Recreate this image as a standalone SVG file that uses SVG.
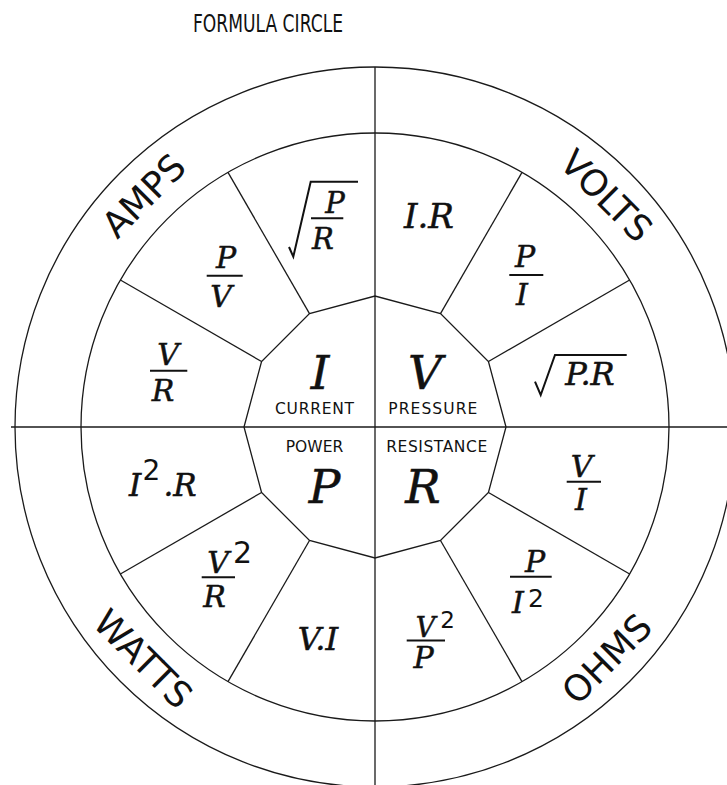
<svg xmlns="http://www.w3.org/2000/svg" width="727" height="785" viewBox="0 0 727 785">
<style>
.ln{fill:none;stroke:#1a1a1a;stroke-width:1.3}
.rad{fill:none;stroke:#111;stroke-width:2;stroke-linejoin:miter}
.bar{stroke:#111;stroke-width:2}
.f{font-family:"DejaVu Serif","Liberation Serif",serif;font-style:italic;fill:#111;stroke:#111;stroke-width:0.5;text-anchor:middle}
.s{font-family:"DejaVu Sans","Liberation Sans",sans-serif;fill:#111;text-anchor:middle}
.big{font-size:47px}
.fr{font-size:30px}
.lab{font-size:15.5px}
.ring{font-size:36px}
</style>
<rect width="727" height="785" fill="#fff"/>
<g id="title">
<text class="s" x="268" y="32" font-size="24" textLength="150" lengthAdjust="spacingAndGlyphs">FORMULA CIRCLE</text>
</g>
<g id="frame" class="ln">
<circle cx="375" cy="427" r="360"/>
<circle cx="375" cy="427" r="294"/>
<polygon points="506,427 488.45,361.5 440.5,313.55 375,296 309.5,313.55 261.55,361.5 244,427 261.55,492.5 309.5,540.45 375,558 440.5,540.45 488.45,492.5"/>
</g>
<g id="connectors" class="ln">
<line x1="375" y1="67" x2="375" y2="785"/>
<line x1="11" y1="427" x2="727" y2="427"/>
<line x1="488.45" y1="361.5" x2="629.6" y2="280"/>
<line x1="440.5" y1="313.55" x2="522" y2="172.4"/>
<line x1="309.5" y1="313.55" x2="228" y2="172.4"/>
<line x1="261.55" y1="361.5" x2="120.4" y2="280"/>
<line x1="261.55" y1="492.5" x2="120.4" y2="574"/>
<line x1="309.5" y1="540.45" x2="228" y2="681.6"/>
<line x1="440.5" y1="540.45" x2="522" y2="681.6"/>
<line x1="488.45" y1="492.5" x2="629.6" y2="574"/>
</g>
<g id="current">
<text class="f big" x="320" y="389">I</text>
<text class="s lab" x="314.5" y="414" textLength="79">CURRENT</text>
</g>
<g id="pressure">
<text class="f big" x="425" y="389">V</text>
<text class="s lab" x="432.8" y="414" textLength="89">PRESSURE</text>
</g>
<g id="power">
<text class="s lab" x="314.5" y="452" textLength="57.6">POWER</text>
<text class="f big" x="324.5" y="503">P</text>
</g>
<g id="resistance">
<text class="s lab" x="436.7" y="452" textLength="101">RESISTANCE</text>
<text class="f big" x="423" y="503">R</text>
</g>
<g id="amps-sqrt-p-r">
<path class="rad" d="M289,247 L293.3,256.7 L310.7,181.7 L358,181.7"/>
<text class="f" font-size="29" x="335" y="213">P</text>
<line class="bar" x1="311" y1="218.3" x2="343.3" y2="218.3"/>
<text class="f" font-size="29" x="323" y="249.3">R</text>
</g>
<g id="amps-p-v">
<text class="f fr" x="226" y="268.3">P</text>
<line class="bar" x1="206.7" y1="275.7" x2="242.7" y2="275.7"/>
<text class="f fr" x="221" y="306.7">V</text>
</g>
<g id="amps-v-r">
<text class="f fr" x="168" y="365">V</text>
<line class="bar" x1="150" y1="370.7" x2="187.3" y2="370.7"/>
<text class="f fr" x="163" y="401">R</text>
</g>
<g id="volts-i-r">
<text class="f" font-size="34" x="429" y="228.3">I.R</text>
</g>
<g id="volts-p-i">
<text class="f fr" x="525" y="266.7">P</text>
<line class="bar" x1="509.3" y1="275" x2="543.3" y2="275"/>
<text class="f fr" x="522" y="305">I</text>
</g>
<g id="volts-sqrt-pr">
<path class="rad" d="M535,381.7 L540.7,395 L555,355 L626.7,355"/>
<text class="f" font-size="32" x="590" y="385">P.R</text>
</g>
<g id="watts-i2r">
<text class="f" font-size="31" x="135" y="496">I</text>
<text class="s" font-size="28" x="151.5" y="480">2</text>
<text class="f" font-size="31" x="180" y="496">.R</text>
</g>
<g id="watts-v2-r">
<text class="f fr" x="218" y="573.3">V</text>
<text class="s" font-size="30" x="242.5" y="563.3">2</text>
<line class="bar" x1="201.7" y1="577.3" x2="235" y2="577.3"/>
<text class="f fr" x="214.5" y="606.7">R</text>
</g>
<g id="watts-v-i">
<text class="f" font-size="32" x="318" y="650">V.I</text>
</g>
<g id="ohms-v-i">
<text class="f fr" x="581.5" y="476.7">V</text>
<line class="bar" x1="566.7" y1="481.7" x2="601" y2="481.7"/>
<text class="f fr" x="581" y="510">I</text>
</g>
<g id="ohms-p-i2">
<text class="f fr" x="535" y="571.7">P</text>
<line class="bar" x1="510" y1="576.7" x2="551.7" y2="576.7"/>
<text class="f fr" x="518" y="613.3">I</text>
<text class="s" font-size="25" x="536" y="606.7">2</text>
</g>
<g id="ohms-v2-p">
<text class="f" font-size="27" x="425.5" y="637">V</text>
<text class="s" font-size="23" x="447.5" y="628.3">2</text>
<line class="bar" x1="406.7" y1="640.5" x2="445" y2="640.5"/>
<text class="f fr" x="423.5" y="668">P</text>
</g>
<g id="amps"><text class="s ring" transform="translate(152.6,204.6) rotate(-45)">AMPS</text></g>
<g id="volts"><text class="s ring" transform="translate(597.4,204.6) rotate(45)">VOLTS</text></g>
<g id="watts"><text class="s ring" transform="translate(134.2,667.8) rotate(45)">WATTS</text></g>
<g id="ohms"><text class="s ring" transform="translate(615.8,667.8) rotate(-45)">OHMS</text></g>
</svg>
